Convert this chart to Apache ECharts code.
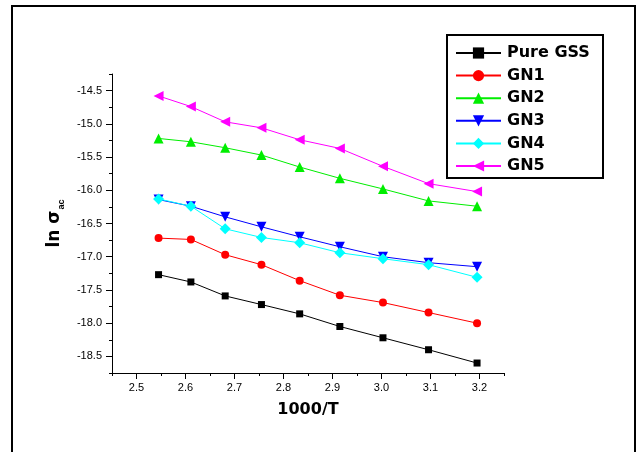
<!DOCTYPE html>
<html>
<head>
<meta charset="utf-8">
<script src="https://cdn.jsdelivr.net/npm/echarts@6/dist/echarts.min.js"></script>
<style>
  html, body { margin: 0; padding: 0; background: #fff; }
  #chart { width: 642px; height: 452px; }
</style>
</head>
<body>
<div id="chart"></div>
<script>
// Inverse temperature, 1000/T (K^-1)
const invT = [2.545, 2.611, 2.681, 2.755, 2.833, 2.915, 3.003, 3.096, 3.195];

// ln(sigma_ac) for each sample
const pureGSS = [-17.27, -17.38, -17.59, -17.72, -17.86, -18.05, -18.22, -18.40, -18.60];
const gn1 = [-16.72, -16.74, -16.97, -17.12, -17.36, -17.58, -17.69, -17.84, -18.00];
const gn2 = [-15.22, -15.27, -15.36, -15.47, -15.65, -15.82, -15.98, -16.16, -16.24];
const gn3 = [-16.14, -16.24, -16.40, -16.55, -16.70, -16.85, -17.00, -17.09, -17.15];
const gn4 = [-16.13, -16.24, -16.58, -16.71, -16.79, -16.94, -17.03, -17.12, -17.31];
const gn5 = [-14.58, -14.74, -14.97, -15.06, -15.24, -15.37, -15.64, -15.90, -16.02];

const seriesNames = ['Pure GSS', 'GN1', 'GN2', 'GN3', 'GN4', 'GN5'];

// Axis ticks
const xMajor = [2.5, 2.6, 2.7, 2.8, 2.9, 3.0, 3.1, 3.2];
const xMinor = [2.45, 2.55, 2.65, 2.75, 2.85, 2.95, 3.05, 3.15, 3.25];
const yMajor = [-18.5, -18.0, -17.5, -17.0, -16.5, -16.0, -15.5, -15.0, -14.5];
const yMinor = [-18.75, -18.25, -17.75, -17.25, -16.75, -16.25, -15.75, -15.25, -14.75, -14.25];

const pair = ys => invT.map((x, i) => [x, ys[i]]);

const styles = [
  { color: '#000000', symbol: 'rect', size: 7, rotate: 0 },
  { color: '#ff0000', symbol: 'circle', size: 8, rotate: 0 },
  { color: '#00ee00', symbol: 'triangle', size: 10, rotate: 0 },
  { color: '#0000ff', symbol: 'triangle', size: 10, rotate: 180 },
  { color: '#00ffff', symbol: 'diamond', size: 11, rotate: 0 },
  { color: '#ff00ff', symbol: 'triangle', size: 10, rotate: 90 }
];
const values = [pureGSS, gn1, gn2, gn3, gn4, gn5];

const font = 'Liberation Sans, Arial, sans-serif';
const boldFont = 'DejaVu Sans, Arial, sans-serif';

const chart = echarts.init(document.getElementById('chart'), null, { renderer: 'canvas' });

const series = seriesNames.map((name, k) => ({
  name: name,
  type: 'line',
  data: pair(values[k]),
  symbol: styles[k].symbol,
  symbolSize: styles[k].size,
  symbolRotate: styles[k].rotate,
  showSymbol: true,
  lineStyle: { color: styles[k].color, width: 1 },
  itemStyle: { color: styles[k].color },
  emphasis: { disabled: true },
  animation: false
}));

chart.setOption({
  backgroundColor: '#ffffff',
  animation: false,
  grid: { left: 112, right: 138, top: 74, bottom: 79, containLabel: false },
  xAxis: [
    {
      type: 'value', min: 2.45, max: 3.25,
      axisLine: { show: true, lineStyle: { color: '#000', width: 1 } },
      axisTick: { show: true, inside: false, length: 6, customValues: xMajor, lineStyle: { color: '#000' } },
      axisLabel: { customValues: xMajor, margin: 9, fontSize: 11, color: '#000', fontFamily: font,
        formatter: v => v.toFixed(1) },
      splitLine: { show: false },
      name: '1000/T', nameLocation: 'middle', nameGap: 29,
      nameTextStyle: { fontSize: 16, fontWeight: 'bold', color: '#000', fontFamily: boldFont }
    },
    {
      type: 'value', min: 2.45, max: 3.25, position: 'bottom',
      axisLine: { show: false },
      axisTick: { show: true, inside: false, length: 3, customValues: xMinor, lineStyle: { color: '#000' } },
      axisLabel: { show: false },
      splitLine: { show: false }
    }
  ],
  yAxis: [
    {
      type: 'value', min: -18.75, max: -14.25,
      axisLine: { show: true, lineStyle: { color: '#000', width: 1 } },
      axisTick: { show: true, inside: false, length: 6, customValues: yMajor, lineStyle: { color: '#000' } },
      axisLabel: { customValues: yMajor, margin: 10, fontSize: 11, color: '#000', fontFamily: font,
        formatter: v => v.toFixed(1) },
      splitLine: { show: false },
      name: '{m|ln σ}{s|ac}', nameLocation: 'middle', nameGap: 47, nameRotate: 90,
      nameTextStyle: {
        color: '#000', fontFamily: boldFont,
        rich: {
          m: { fontSize: 17, fontWeight: 'bold', color: '#000', fontFamily: boldFont, lineHeight: 22, verticalAlign: 'bottom' },
          s: { fontSize: 9, fontWeight: 'bold', color: '#000', fontFamily: font, lineHeight: 22, verticalAlign: 'bottom', padding: [0, 0, -3, 1] }
        }
      }
    },
    {
      type: 'value', min: -18.75, max: -14.25, position: 'left',
      axisLine: { show: false },
      axisTick: { show: true, inside: false, length: 3, customValues: yMinor, lineStyle: { color: '#000' } },
      axisLabel: { show: false },
      splitLine: { show: false }
    }
  ],
  legend: {
    orient: 'vertical',
    left: 455, top: 45,
    itemWidth: 45, itemHeight: 14, itemGap: 6.6,
    padding: 0,
    data: seriesNames,
    textStyle: { fontSize: 16, lineHeight: 16, fontWeight: 'bold', color: '#000', fontFamily: boldFont, padding: [0, 0, 0, 1] },
    selectedMode: false
  },
  graphic: [
    {
      type: 'rect', silent: true,
      shape: { x: 12, y: 6, width: 623, height: 470 },
      style: { fill: 'none', stroke: '#000', lineWidth: 2 }
    },
    {
      type: 'rect', silent: true,
      shape: { x: 447, y: 35, width: 156, height: 143 },
      style: { fill: 'none', stroke: '#000', lineWidth: 2 }
    }
  ],
  series: series
});
</script>
</body>
</html>
